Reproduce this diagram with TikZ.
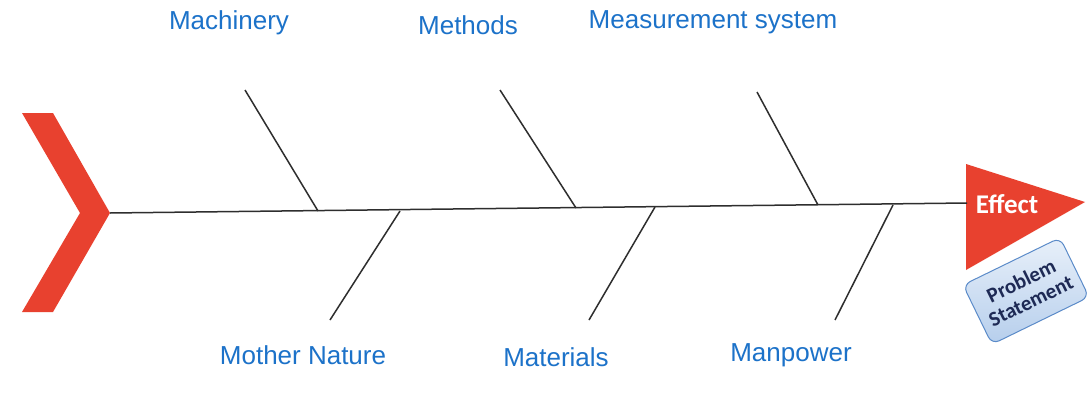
\documentclass[tikz,border=0pt]{standalone}
\usepackage{fontspec}
\setmainfont{Liberation Sans}
\newfontfamily\calib{Carlito}
\definecolor{fishred}{HTML}{E8412F}
\definecolor{labelblue}{HTML}{1C72C9}
\definecolor{bonegray}{HTML}{2E2E2E}
\definecolor{boxblue}{HTML}{5B8BC9}
\definecolor{boxfill}{HTML}{C6DAF2}
\definecolor{navy}{HTML}{1E2A55}
\begin{document}
\begin{tikzpicture}[x=1pt,y=-1pt,
  cat/.style={text=labelblue,font=\fontsize{26}{30}\selectfont,inner sep=0pt},
  bone/.style={draw=bonegray,line width=1.5pt}]
\useasboundingbox[fill=white] (0,0) rectangle (1089,399);
% tail chevron
\fill[fishred] (22,113) -- (53,113) -- (110,213) -- (53,312) -- (22,312) -- (80,213) -- cycle;
% effect triangle
\coordinate (tl) at (966,164);
\coordinate (tip) at (1085,202);
\coordinate (bl) at (966,270);
\fill[fishred] (tl) -- (tip) -- (bl) -- cycle;
\coordinate (tail) at (110,213);
\coordinate (head) at (967,203);
\draw[bone] (tail) -- (head);
\node[text=white,font=\calib\bfseries\fontsize{27}{30}\selectfont,inner sep=0pt] (effect) at (1007,204) {Effect};
% problem statement
\node[draw=boxblue,line width=1pt,rounded corners=8pt,top color=white!60!boxfill,bottom color=boxfill!85!boxblue,
  minimum width=108pt,minimum height=66pt,rotate=26,align=center,
  text=navy,font=\calib\bfseries\fontsize{21}{22}\selectfont,inner sep=2pt] (problem) at (1026,291) {Problem\\Statement};
% spine points
\coordinate (s1) at (318,211);
\coordinate (s2) at (576,208);
\coordinate (s3) at (818,205);
\coordinate (s4) at (400,211);
\coordinate (s5) at (655,207);
\coordinate (s6) at (893,205);
% bone ends
\coordinate (e1) at (245,90);
\coordinate (e2) at (500,90);
\coordinate (e3) at (757,92);
\coordinate (e4) at (330,320);
\coordinate (e5) at (589,320);
\coordinate (e6) at (835,320);
\draw[bone] (e1) -- (s1);
\draw[bone] (e2) -- (s2);
\draw[bone] (e3) -- (s3);
\draw[bone] (s4) -- (e4);
\draw[bone] (s5) -- (e5);
\draw[bone] (s6) -- (e6);
% labels
\node[cat] (machinery) at (229,23) {Machinery};
\node[cat] (methods) at (468,25) {Methods};
\node[cat] (measure) at (713,22) {Measurement system};
\node[cat] (mother) at (303,355) {Mother Nature};
\node[cat] (materials) at (556,357) {Materials};
\node[cat] (manpower) at (791,355) {Manpower};
\end{tikzpicture}
\end{document}
